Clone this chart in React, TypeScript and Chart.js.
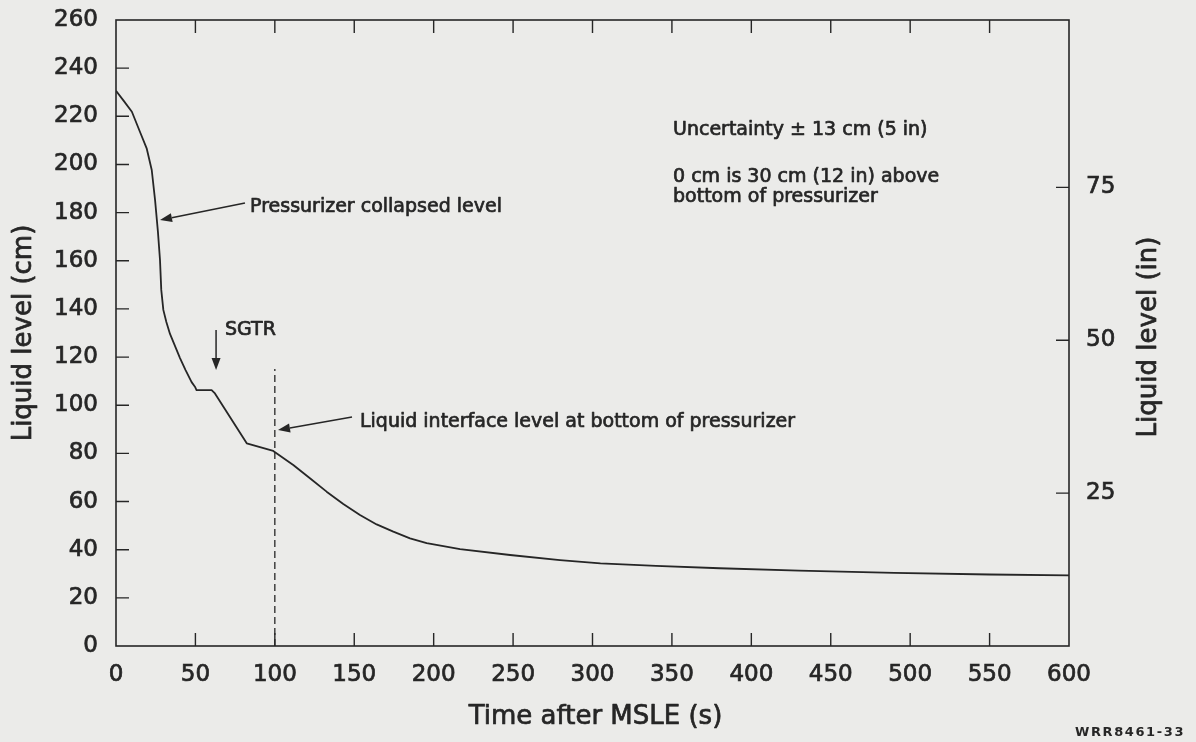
import React, { useEffect, useRef } from "react";
import { Chart, registerables } from "chart.js";

Chart.register(...registerables);

// ---- data ----
const timeS = [0, 5, 10, 15, 19.3, 22.5, 24.6, 26.4, 27.7, 28.5, 29.8, 31.7, 34, 40.3, 43.8, 47.6, 49.7, 50.7, 60.2, 62.3, 82.3, 99, 111.6, 122.1, 132.6, 143.1, 153.6, 164.1, 174.6, 185.1, 195.6, 216.6, 248.1, 279.5, 305, 340, 380, 430, 490, 550, 600];
const levelCm = [230.6, 226.3, 221.9, 213.7, 206.7, 197.7, 185.2, 172.0, 160.3, 147.9, 139.6, 134.6, 129.6, 119.6, 114.6, 109.6, 107.7, 106.3, 106.3, 104.9, 84.2, 81.0, 75.2, 69.7, 64.1, 59.0, 54.4, 50.5, 47.5, 44.7, 42.7, 40.2, 37.8, 35.7, 34.3, 33.3, 32.3, 31.3, 30.4, 29.7, 29.3];

const interfaceTime = [100, 100];
const interfaceLevel = [0, 115];

const xTickValues = [0, 50, 100, 150, 200, 250, 300, 350, 400, 450, 500, 550, 600];
const cmTickValues = [0, 20, 40, 60, 80, 100, 120, 140, 160, 180, 200, 220, 240, 260];
const inchTickValues = [25, 50, 75];

const CM_PER_IN = 2.54;

const xTitle = "Time after MSLE (s)";
const yTitle = "Liquid level (cm)";
const y2Title = "Liquid level (in)";
const figureId = "WRR8461-33";

// annotation texts (anchor in data units: time s, level cm)
const noteTexts = ["Pressurizer collapsed level", "SGTR", "Liquid interface level at bottom of pressurizer", "Uncertainty \u00b1 13 cm (5 in)", "0 cm is 30 cm (12 in) above", "bottom of pressurizer"];
const noteTimes = [84.4, 68.6, 153.6, 350.7, 350.7, 350.7];
const noteLevels = [182.3, 131.4, 93.0, 214.3, 194.8, 186.5];

// arrows: start (time, level) -> tip (time, level)
const arrowStartTimes = [81.2, 63.0, 148.6];
const arrowStartLevels = [184.0, 131.2, 95.1];
const arrowTipTimes = [27.7, 63.0, 102.0];
const arrowTipLevels = [176.9, 114.6, 89.7];

const FONT = "'DejaVu Sans', 'Liberation Sans', sans-serif";
const INK = "#262626";
const PAPER = "#ebebe9";

function heavyText(ctx: CanvasRenderingContext2D, s: string, x: number, y: number) {
  ctx.fillText(s, x, y);
  ctx.strokeText(s, x, y);
}

function drawArrow(ctx: CanvasRenderingContext2D, x1: number, y1: number, x2: number, y2: number) {
  const ang = Math.atan2(y2 - y1, x2 - x1);
  const len = 12;
  const hw = 4.5;
  const bx = x2 - Math.cos(ang) * len;
  const by = y2 - Math.sin(ang) * len;
  ctx.beginPath();
  ctx.moveTo(x1, y1);
  ctx.lineTo(bx, by);
  ctx.stroke();
  ctx.beginPath();
  ctx.moveTo(x2, y2);
  ctx.lineTo(bx - Math.sin(ang) * hw, by + Math.cos(ang) * hw);
  ctx.lineTo(bx + Math.sin(ang) * hw, by - Math.cos(ang) * hw);
  ctx.closePath();
  ctx.fill();
}

const decorPlugin = {
  id: "decor",
  beforeDraw(chart: any) {
    const { ctx, width, height } = chart;
    ctx.save();
    ctx.fillStyle = PAPER;
    ctx.fillRect(0, 0, width, height);
    ctx.restore();
  },
  afterDraw(chart: any) {
    const { ctx, chartArea } = chart;
    const xs = chart.scales.x;
    const ys = chart.scales.y;
    const y2 = chart.scales.y2;
    const { left, right, top, bottom } = chartArea;
    const tl = 13;
    ctx.save();
    ctx.strokeStyle = INK;
    ctx.fillStyle = INK;
    ctx.lineWidth = 1.6;
    // frame
    ctx.strokeRect(left, top, right - left, bottom - top);
    // inward ticks
    ctx.lineWidth = 1.4;
    ctx.beginPath();
    xTickValues.forEach((v) => {
      if (v === xTickValues[0] || v === xTickValues[xTickValues.length - 1]) return;
      const px = xs.getPixelForValue(v);
      ctx.moveTo(px, bottom);
      ctx.lineTo(px, bottom - tl);
      ctx.moveTo(px, top);
      ctx.lineTo(px, top + tl);
    });
    cmTickValues.forEach((v) => {
      if (v === cmTickValues[0] || v === cmTickValues[cmTickValues.length - 1]) return;
      const py = ys.getPixelForValue(v);
      ctx.moveTo(left, py);
      ctx.lineTo(left + tl, py);
    });
    inchTickValues.forEach((v) => {
      const py = y2.getPixelForValue(v);
      ctx.moveTo(right, py);
      ctx.lineTo(right - tl, py);
    });
    ctx.stroke();

    // arrows
    ctx.lineWidth = 1.5;
    for (let i = 0; i < arrowStartTimes.length; i++) {
      drawArrow(
        ctx,
        xs.getPixelForValue(arrowStartTimes[i]),
        ys.getPixelForValue(arrowStartLevels[i]),
        xs.getPixelForValue(arrowTipTimes[i]),
        ys.getPixelForValue(arrowTipLevels[i])
      );
    }

    ctx.lineJoin = "round";
    ctx.lineWidth = 0.7;

    // notes
    ctx.font = `19px ${FONT}`;
    ctx.textAlign = "left";
    ctx.textBaseline = "middle";
    for (let i = 0; i < noteTexts.length; i++) {
      heavyText(ctx, noteTexts[i], xs.getPixelForValue(noteTimes[i]), ys.getPixelForValue(noteLevels[i]));
    }

    // axis titles
    ctx.font = `26px ${FONT}`;
    ctx.textAlign = "center";
    ctx.textBaseline = "middle";
    heavyText(ctx, xTitle, (left + right) / 2 + 3, bottom + 71);

    ctx.save();
    ctx.translate(left - 92, (top + bottom) / 2);
    ctx.rotate(-Math.PI / 2);
    heavyText(ctx, yTitle, 0, 0);
    ctx.restore();

    ctx.save();
    ctx.translate(right + 80, (top + bottom) / 2 + 4);
    ctx.rotate(-Math.PI / 2);
    heavyText(ctx, y2Title, 0, 0);
    ctx.restore();

    // figure id
    ctx.font = `bold 13px ${FONT}`;
    (ctx as any).letterSpacing = "1.6px";
    ctx.textAlign = "left";
    ctx.textBaseline = "middle";
    ctx.fillText(figureId, right + 6, chart.height - 9);
    ctx.restore();
  },
};

function zeroPad(s: any) {
  s.paddingTop = 0;
  s.paddingBottom = 0;
  s.paddingLeft = 0;
  s.paddingRight = 0;
}

export default function App() {
  const ref = useRef<HTMLCanvasElement | null>(null);
  useEffect(() => {
    document.body.style.margin = "0";
    document.body.style.background = PAPER;
    const canvas = ref.current;
    if (!canvas) return;
    const tickStyle = {
      color: INK,
      font: { family: FONT, size: 23 },
      textStrokeColor: INK,
      textStrokeWidth: 0.7,
      autoSkip: false,
    };
    const chart = new Chart(canvas, {
      type: "line",
      data: {
        datasets: [
          {
            label: "Pressurizer collapsed level",
            data: timeS.map((t, i) => ({ x: t, y: levelCm[i] })),
            borderColor: INK,
            borderWidth: 1.8,
            pointRadius: 0,
            tension: 0,
            borderJoinStyle: "round",
            fill: false,
          },
          {
            label: "Liquid interface level at bottom of pressurizer",
            data: interfaceTime.map((t, i) => ({ x: t, y: interfaceLevel[i] })),
            borderColor: INK,
            borderWidth: 1.3,
            borderDash: [7, 4],
            pointRadius: 0,
            fill: false,
          },
        ],
      },
      options: {
        animation: false,
        responsive: false,
        devicePixelRatio: 1,
        layout: { padding: { top: 20, left: 0, right: 0, bottom: 0 } },
        plugins: { legend: { display: false }, tooltip: { enabled: false } },
        scales: {
          x: {
            type: "linear",
            position: "bottom",
            min: 0,
            max: 600,
            afterBuildTicks: (s: any) => {
              s.ticks = xTickValues.map((v) => ({ value: v }));
            },
            afterFit: (s: any) => {
              s.height = 96;
              zeroPad(s);
            },
            grid: { display: false, drawTicks: false },
            border: { display: false },
            ticks: { ...tickStyle, padding: 15, maxRotation: 0 },
          },
          y: {
            type: "linear",
            position: "left",
            min: 0,
            max: 260,
            afterBuildTicks: (s: any) => {
              s.ticks = cmTickValues.map((v) => ({ value: v }));
            },
            afterFit: (s: any) => {
              s.width = 116;
              zeroPad(s);
            },
            grid: { display: false, drawTicks: false },
            border: { display: false },
            ticks: { ...tickStyle, padding: 18 },
          },
          y2: {
            type: "linear",
            position: "right",
            min: 0,
            max: 260 / CM_PER_IN,
            afterBuildTicks: (s: any) => {
              s.ticks = inchTickValues.map((v) => ({ value: v }));
            },
            afterFit: (s: any) => {
              s.width = 127;
              zeroPad(s);
            },
            grid: { display: false, drawTicks: false },
            border: { display: false },
            ticks: { ...tickStyle, padding: 17 },
          },
        },
      },
      plugins: [decorPlugin],
    } as any);
    return () => chart.destroy();
  }, []);
  return <canvas ref={ref} width={1196} height={742} style={{ display: "block" }} />;
}
